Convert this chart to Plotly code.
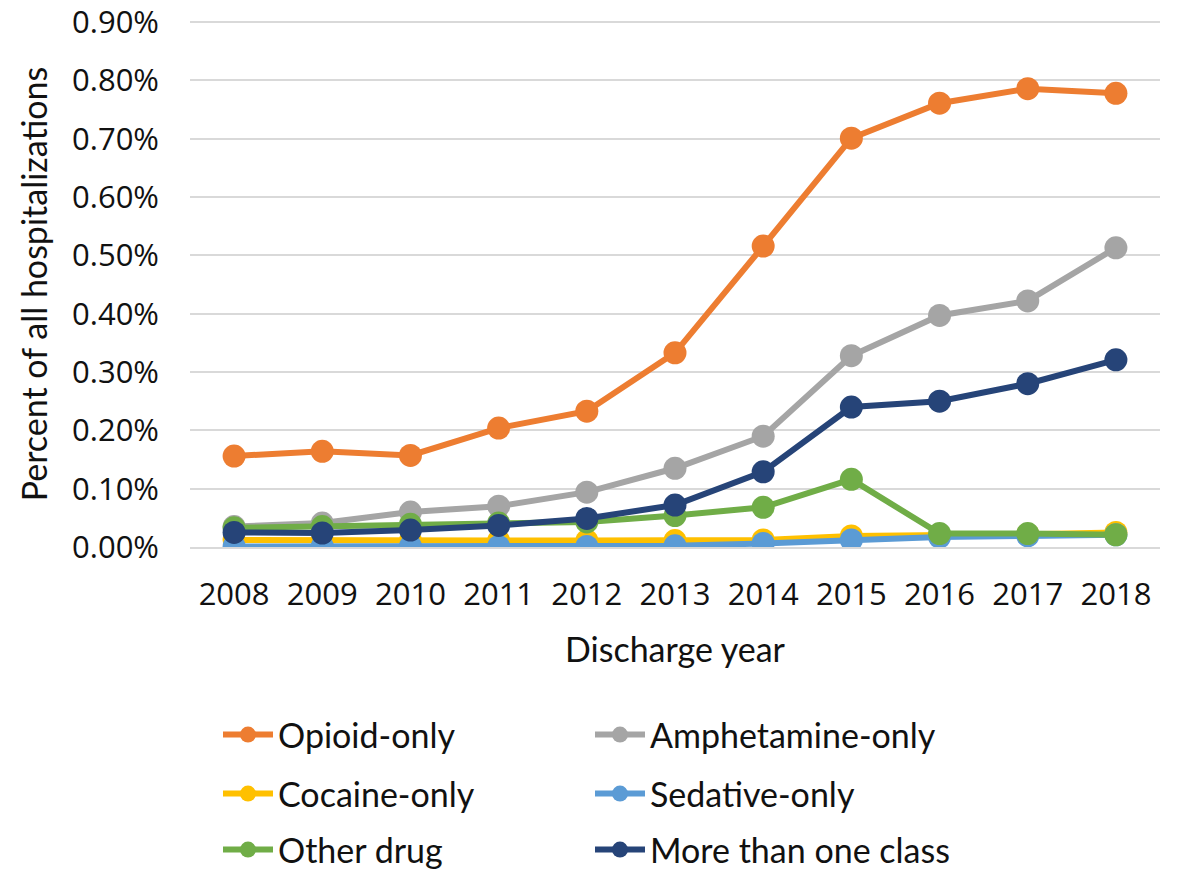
import plotly.graph_objects as go

years = ["2008", "2009", "2010", "2011", "2012", "2013", "2014", "2015", "2016", "2017", "2018"]

# Share of all hospitalizations (percent) by drug class
opioid_only = [0.156, 0.164, 0.157, 0.204, 0.233, 0.333, 0.516, 0.701, 0.761, 0.786, 0.778]
amphetamine_only = [0.035, 0.041, 0.060, 0.070, 0.094, 0.135, 0.190, 0.328, 0.397, 0.422, 0.513]
cocaine_only = [0.012, 0.011, 0.011, 0.011, 0.011, 0.011, 0.012, 0.019, 0.020, 0.022, 0.025]
sedative_only = [0.001, 0.001, 0.001, 0.001, 0.001, 0.002, 0.006, 0.012, 0.017, 0.019, 0.021]
other_drug = [0.033, 0.035, 0.039, 0.041, 0.043, 0.054, 0.068, 0.116, 0.023, 0.023, 0.021]
more_than_one = [0.025, 0.024, 0.029, 0.037, 0.049, 0.072, 0.129, 0.240, 0.250, 0.280, 0.321]

series_names = ["Opioid-only", "Amphetamine-only", "Cocaine-only",
                "Sedative-only", "Other drug", "More than one class"]
series_values = [opioid_only, amphetamine_only, cocaine_only,
                 sedative_only, other_drug, more_than_one]
series_colors = ["#ED7D31", "#A5A5A5", "#FFC000", "#5B9BD5", "#70AD47", "#264478"]

y_tick_values = [0.0, 0.1, 0.2, 0.3, 0.4, 0.5, 0.6, 0.7, 0.8, 0.9]
y_tick_labels = ["0.00%", "0.10%", "0.20%", "0.30%", "0.40%",
                 "0.50%", "0.60%", "0.70%", "0.80%", "0.90%"]

PLOT_LEFT, PLOT_WIDTH, PAGE_H = 190, 970, 872
label_font = "Lato, sans-serif"
tick_font = dict(family="Open Sans, Noto Sans, sans-serif", size=31, color="#111111")

# legend grid: two columns, three rows (pixel positions on the page)
legend_cols = [218, 590]
legend_rows = [735, 794, 850]

fig = go.Figure()
legends = {}
for i, (name, vals, color) in enumerate(zip(series_names, series_values, series_colors)):
    key = "legend" if i == 0 else f"legend{i + 1}"
    fig.add_trace(go.Scatter(
        x=years, y=vals, name=name, mode="lines+markers",
        line=dict(color=color, width=6),
        marker=dict(color=color, size=23),
        legend=key,
    ))
    legends[key] = dict(
        orientation="h",
        x=(legend_cols[i % 2] - PLOT_LEFT) / PLOT_WIDTH, xanchor="left",
        y=1 - legend_rows[i // 2] / PAGE_H, yref="container", yanchor="middle",
        font=dict(family=label_font, size=34, color="#111111"),
        bgcolor="rgba(0,0,0,0)", itemwidth=50,
    )

fig.update_layout(
    width=1180, height=PAGE_H,
    margin=dict(l=PLOT_LEFT, r=20, t=21, b=325, autoexpand=False),
    paper_bgcolor="white", plot_bgcolor="white",
    showlegend=True,
    **legends,
    xaxis=dict(
        type="category", range=[-0.5, 10.5],
        showgrid=False, showline=True, linecolor="#D9D9D9", linewidth=1.5,
        ticks="", tickfont=tick_font, ticklabelstandoff=19,
        title=dict(text="Discharge year", font=dict(family=label_font, size=34, color="#111111"), standoff=25),
    ),
    yaxis=dict(
        range=[0, 0.902], tickmode="array", tickvals=y_tick_values, ticktext=y_tick_labels,
        ticklabeloverflow="allow",
        showgrid=True, gridcolor="#D9D9D9", gridwidth=1.5, zeroline=False,
        ticks="", tickfont=tick_font, ticklabelstandoff=30,
        title=dict(text="Percent of all hospitalizations", font=dict(family=label_font, size=34, color="#111111"), standoff=14),
    ),
)

fig.write_html("out.html")
